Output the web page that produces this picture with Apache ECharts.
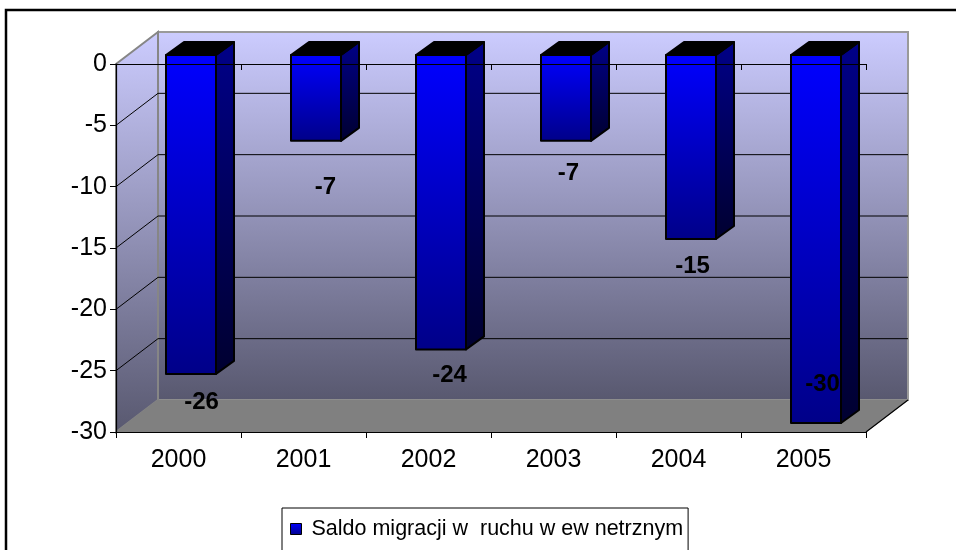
<!DOCTYPE html>
<html>
<head>
<meta charset="utf-8">
<style>
  html, body { margin: 0; padding: 0; background: #fff; overflow: hidden; }
  #chart { width: 956px; height: 550px; }
</style>
<script src="https://cdn.jsdelivr.net/npm/echarts@6/dist/echarts.min.js"></script>
</head>
<body>
<div id="chart"></div>
<script>
// dane
const categories = ['2000', '2001', '2002', '2003', '2004', '2005'];
const saldo = [-26, -7, -24, -7, -15, -30];
const yTicks = [0, -5, -10, -15, -20, -25, -30];
const seriesName = 'Saldo migracji w  ruchu w ew netrznym';

// labels were placed by hand in the original, so they need a nudge from the bar end
const labelNudgeX = [23, 22, 21, 15, 14, 19];
const labelNudgeY = [28, 47, 26, 33, 27, -39];

const FONT = '"Liberation Sans", Arial, sans-serif';
const WALL_DX = 42, WALL_DY = -32;   // depth of the 3d box
const BAR_DX = 18, BAR_DY = -13;     // depth of one bar
const BAR_W = 50;

function vGrad(top, bottom) {
  return new echarts.graphic.LinearGradient(0, 0, 0, 1, [
    { offset: 0, color: top },
    { offset: 1, color: bottom }
  ]);
}

// walls, floor and the grid lines behind the bars
function renderWalls(params, api) {
  const c = params.coordSys;
  const l = c.x, t = c.y, r = c.x + c.width, b = c.y + c.height;
  const wallFill = vGrad('#ccccff', '#58586f');
  const kids = [
    { type: 'polygon', shape: { points: [[l + WALL_DX, t + WALL_DY], [r + WALL_DX, t + WALL_DY], [r + WALL_DX, b + WALL_DY], [l + WALL_DX, b + WALL_DY]] },
      style: { fill: wallFill, stroke: '#9a9a9a', lineWidth: 2 } },
    { type: 'polygon', shape: { points: [[l, t], [l + WALL_DX, t + WALL_DY], [l + WALL_DX, b + WALL_DY], [l, b]] },
      style: { fill: wallFill, stroke: '#868686', lineWidth: 2 } },
    { type: 'polygon', shape: { points: [[l, b], [l + WALL_DX, b + WALL_DY], [r + WALL_DX, b + WALL_DY], [r, b]] },
      style: { fill: '#808080', stroke: '#808080', lineWidth: 1 } },
    { type: 'line', shape: { x1: r, y1: b, x2: r + WALL_DX, y2: b + WALL_DY },
      style: { stroke: '#000', lineWidth: 1.2 } }
  ];
  yTicks.slice(1, -1).forEach(function (v) {
    const y = api.coord([0, v])[1];
    kids.push({ type: 'polyline', shape: { points: [[l, y], [l + WALL_DX, y + WALL_DY], [r + WALL_DX, y + WALL_DY]] },
      style: { fill: 'none', stroke: '#000', lineWidth: 1 } });
  });
  return { type: 'group', children: kids };
}

function renderBar(params, api) {
  const i = api.value(0);
  const val = api.value(1);
  const zero = api.coord([i, 0]);
  const end = api.coord([i, val]);
  const x1 = zero[0] - 12.5, x2 = x1 + BAR_W;
  const y1 = zero[1] - 9, y2 = end[1] - 9;
  const edge = { stroke: '#000', lineWidth: 2, lineJoin: 'round' };
  return {
    type: 'group',
    children: [
      { type: 'polygon', shape: { points: [[x2, y1], [x2 + BAR_DX, y1 + BAR_DY], [x2 + BAR_DX, y2 + BAR_DY], [x2, y2]] },
        style: Object.assign({ fill: vGrad('#000088', '#000030') }, edge) },
      { type: 'polygon', shape: { points: [[x1, y1], [x1 + BAR_DX, y1 + BAR_DY], [x2 + BAR_DX, y1 + BAR_DY], [x2, y1]] },
        style: Object.assign({ fill: '#000' }, edge) },
      { type: 'rect', shape: { x: x1, y: y1, width: BAR_W, height: y2 - y1 },
        style: Object.assign({ fill: vGrad('#0000ff', '#000088') }, edge) },
      { type: 'text', x: zero[0] + labelNudgeX[i], y: y2 + labelNudgeY[i],
        style: { text: String(val), font: 'bold 24px ' + FONT, fill: '#000', align: 'center', verticalAlign: 'middle' } }
    ]
  };
}

const chart = echarts.init(document.getElementById('chart'), null, { renderer: 'canvas' });

chart.setOption({
  animation: false,
  backgroundColor: '#fff',
  textStyle: { fontFamily: FONT },
  grid: { left: 116, top: 64, width: 750, height: 368, containLabel: false },
  legend: {
    left: 282, top: 508,
    padding: [10, 5, 24, 8],
    itemWidth: 11, itemHeight: 11, itemGap: 0,
    borderColor: '#000', borderWidth: 1, backgroundColor: '#fff',
    icon: 'rect',
    data: [seriesName],
    itemStyle: { borderColor: '#000', borderWidth: 1 },
    textStyle: { fontFamily: FONT, fontSize: 21.5, color: '#000', padding: [0, 0, 0, 5] }
  },
  // ramka wykresu, prawa i dolna krawedz poza kadrem
  graphic: [{
    type: 'rect', z: -1, silent: true,
    shape: { x: 6, y: 10, width: 1100, height: 700 },
    style: { fill: 'none', stroke: '#000', lineWidth: 2.5 }
  }],
  xAxis: [{
    type: 'category', data: categories, position: 'bottom',
    axisLine: { onZero: false, lineStyle: { color: '#000', width: 1.2 } },
    axisTick: { show: true, length: 6, lineStyle: { color: '#000' } },
    axisLabel: { color: '#000', fontSize: 25, fontFamily: FONT, margin: 16 },
    splitLine: { show: false },
    z: 10
  }, {
    // linia zera idzie po wierzchu slupkow
    type: 'category', data: categories, position: 'top',
    axisLine: { onZero: false, lineStyle: { color: '#000', width: 1.2 } },
    axisTick: { show: true, inside: true, length: 6, lineStyle: { color: '#000' } },
    axisLabel: { show: false },
    splitLine: { show: false },
    z: 10
  }],
  yAxis: {
    type: 'value', min: -30, max: 0, interval: 5,
    axisLine: { show: true, lineStyle: { color: '#000', width: 1.2 } },
    axisTick: { show: true, length: 6, lineStyle: { color: '#000' } },
    axisLabel: { color: '#000', fontSize: 25, fontFamily: FONT, margin: 9 },
    splitLine: { show: false },
    z: 10
  },
  series: [{
    type: 'custom', name: 'walls', silent: true, z: 1,
    renderItem: renderWalls,
    data: [[0, 0]],
    tooltip: { show: false }
  }, {
    type: 'custom', name: seriesName, z: 2,
    renderItem: renderBar,
    itemStyle: { color: vGrad('#0000ff', '#000088'), borderColor: '#000' },
    encode: { x: 0, y: 1 },
    data: saldo.map(function (v, i) { return [i, v]; })
  }]
});
</script>
</body>
</html>
